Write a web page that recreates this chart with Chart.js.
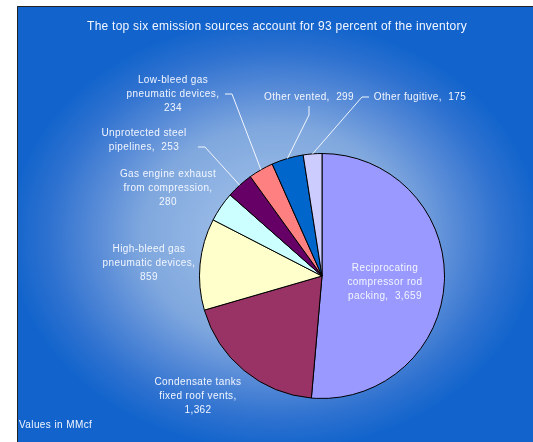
<!DOCTYPE html>
<html>
<head>
<meta charset="utf-8">
<script src="https://cdn.jsdelivr.net/npm/chart.js@4"></script>
<style>
  html, body { margin: 0; padding: 0; background: #fff; }
  #wrap { width: 533px; height: 442px; }
</style>
</head>
<body>
<div id="wrap"><canvas id="pieChart" width="533" height="442"></canvas></div>
<script>
// data
const categories = [
  ["Reciprocating", "compressor rod", "packing"],
  ["Condensate tanks", "fixed roof vents"],
  ["High-bleed gas", "pneumatic devices"],
  ["Gas engine exhaust", "from compression"],
  ["Unprotected steel", "pipelines"],
  ["Low-bleed gas", "pneumatic devices"],
  ["Other vented"],
  ["Other fugitive"]
];
const emissions = [3659, 1362, 859, 280, 253, 234, 299, 175];
const sliceColors = ["#9999ff", "#993366", "#ffffcc", "#ccffff", "#660066", "#ff8080", "#0066cc", "#ccccff"];
const titleText = "The top six emission sources account for 93 percent of the inventory";
const unitsNote = "Values in MMcf";

// where each label goes (x = centre of text, y = first line), plus leader elbows
const labelLayout = [
  { x: 385, y: 268, newLine: false },
  { x: 198, y: 382, newLine: true },
  { x: 149, y: 249, newLine: true },
  { x: 168, y: 174, newLine: true },
  { x: 144, y: 133, newLine: false, leader: [[198, 147], [205, 147]] },
  { x: 173, y: 80, newLine: true, leader: [[225, 94], [232, 94]] },
  { x: 309, y: 97, newLine: false, leader: [[309, 106], [309, 115]] },
  { x: 420, y: 97, newLine: false, leader: [[369, 97], [362, 97]] }
];

function fmt(v) {
  return v.toLocaleString("en-US");
}

function labelLines(i) {
  const lines = categories[i].slice();
  const val = fmt(emissions[i]);
  if (labelLayout[i].newLine) {
    lines[lines.length - 1] += ",";
    lines.push(val);
  } else {
    lines[lines.length - 1] += ",  " + val;
  }
  return lines;
}

// background + frame
const backdrop = {
  id: "backdrop",
  beforeDraw(chart) {
    const ctx = chart.ctx;
    ctx.save();
    ctx.fillStyle = "#fff";
    ctx.fillRect(0, 0, chart.width, chart.height);
    ctx.save();
    ctx.beginPath();
    ctx.rect(17, 6, chart.width - 17, chart.height - 6);
    ctx.clip();
    ctx.translate(275, 235);
    ctx.scale(1, 215 / 265);
    const g = ctx.createRadialGradient(0, 0, 0, 0, 0, 265);
    g.addColorStop(0, "#a8c6ec");
    g.addColorStop(0.5, "#80a8de");
    g.addColorStop(0.66, "#5c8ed8");
    g.addColorStop(0.85, "#2f72d0");
    g.addColorStop(1, "#1264cc");
    ctx.fillStyle = g;
    ctx.fillRect(-400, -400, 800, 800);
    ctx.restore();
    ctx.strokeStyle = "#222";
    ctx.lineWidth = 1;
    ctx.beginPath();
    ctx.moveTo(17.5, chart.height);
    ctx.lineTo(17.5, 6.5);
    ctx.lineTo(chart.width, 6.5);
    ctx.stroke();
    ctx.restore();
  }
};

// 🏷️ slice labels with leader lines
const sliceLabels = {
  id: "sliceLabels",
  afterDraw(chart) {
    const ctx = chart.ctx;
    const arcs = chart.getDatasetMeta(0).data;
    ctx.save();
    ctx.font = "10px 'Liberation Sans', Arial, sans-serif";
    ctx.letterSpacing = "0.4px";
    ctx.textAlign = "center";
    ctx.textBaseline = "middle";
    ctx.fillStyle = "#f2f6ff";
    ctx.strokeStyle = "#f2f6ff";
    ctx.lineWidth = 1;

    labelLayout.forEach((lay, i) => {
      const lines = labelLines(i);
      lines.forEach((ln, k) => {
        ctx.fillText(ln, lay.x, lay.y + k * 14);
      });
      if (lay.leader) {
        const a = arcs[i];
        const mid = (a.startAngle + a.endAngle) / 2;
        const ex = a.x + Math.cos(mid) * a.outerRadius;
        const ey = a.y + Math.sin(mid) * a.outerRadius;
        ctx.beginPath();
        ctx.moveTo(lay.leader[0][0], lay.leader[0][1]);
        for (let p = 1; p < lay.leader.length; p++) ctx.lineTo(lay.leader[p][0], lay.leader[p][1]);
        ctx.lineTo(ex, ey);
        ctx.stroke();
      }
    });

    // title + note
    ctx.font = "12px 'Liberation Sans', Arial, sans-serif";
    ctx.letterSpacing = "0.25px";
    ctx.fillText(titleText, 277, 27);
    ctx.font = "10px 'Liberation Sans', Arial, sans-serif";
    ctx.letterSpacing = "0.4px";
    ctx.textAlign = "left";
    ctx.fillText(unitsNote, 19, 425);
    ctx.restore();
  }
};

new Chart(document.getElementById("pieChart"), {
  type: "pie",
  data: {
    labels: categories,
    datasets: [{
      data: emissions,
      backgroundColor: sliceColors,
      borderColor: "#000",
      borderWidth: 1,
      hoverOffset: 0
    }]
  },
  options: {
    responsive: false,
    animation: false,
    layout: { padding: { left: 199, right: 88, top: 153, bottom: 43 } },
    plugins: {
      legend: { display: false },
      tooltip: { enabled: false },
      title: { display: false }
    }
  },
  plugins: [backdrop, sliceLabels]
});
</script>
</body>
</html>
